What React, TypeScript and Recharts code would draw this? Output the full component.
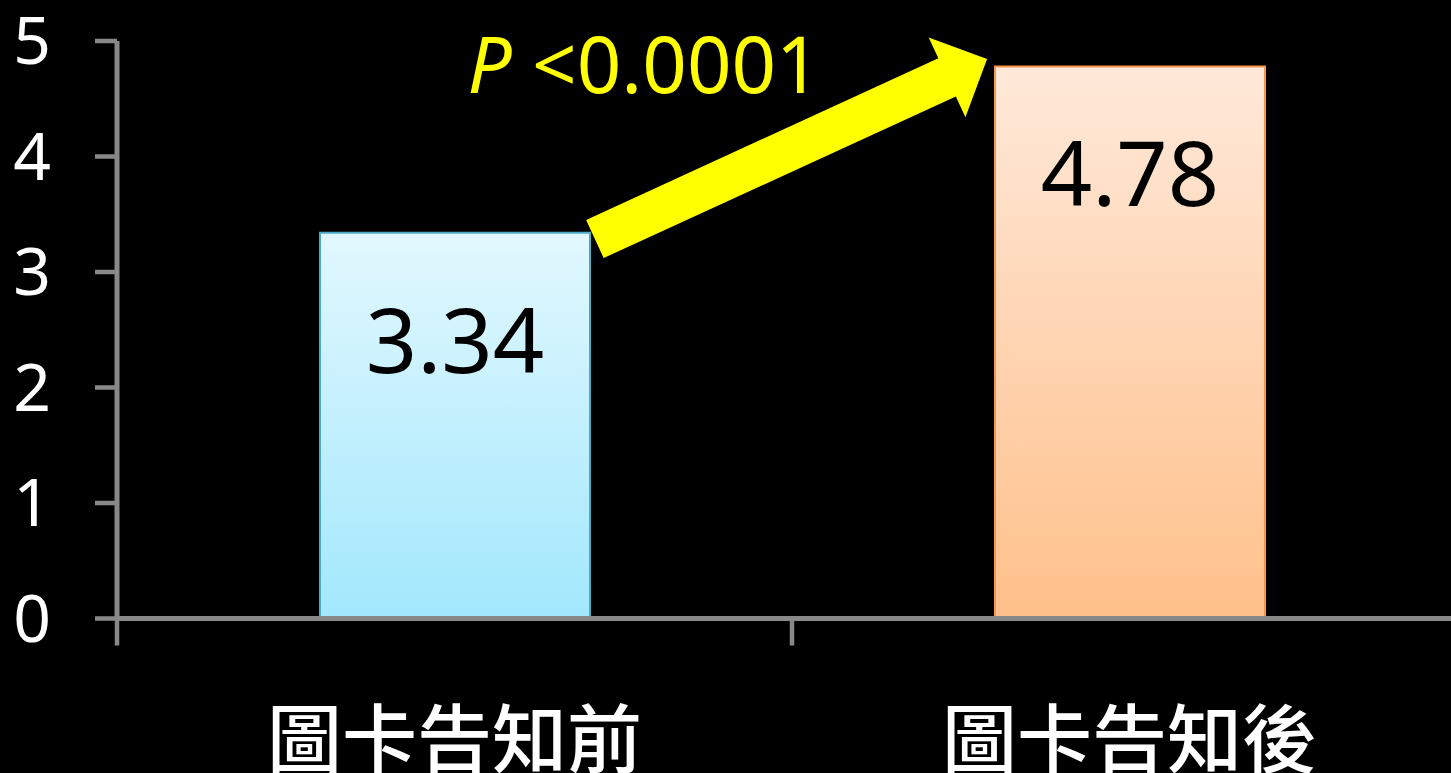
import { BarChart, Bar, XAxis, YAxis, Cell, LabelList, ReferenceLine, ReferenceDot } from "recharts";

// scores before / after the picture-card notice
const categories = ["圖卡告知前", "圖卡告知後"];
const slots = [0.5, 1.5];
const scores = [3.34, 4.78];
const yTicks = [0, 1, 2, 3, 4, 5];
const xTicks = [0, 0.5, 1, 1.5, 2];

const fills = ["url(#fillBefore)", "url(#fillAfter)"];
const strokes = ["#4bacc6", "#f79646"];

// arrow from the first bar up to the second, in data units
const arrowFrom = { x: 0.708, y: 3.286 };
const arrowTo = { x: 1.289, y: 4.844 };
const pLabelAt = { x: 0.781, y: 4.55 };

const data = categories.map((name, i) => ({ name, pos: slots[i], score: scores[i] }));

const AXIS = "#888888";
const FONT = "'Noto Sans', 'DejaVu Sans', sans-serif";
const CJK = "'Noto Sans CJK TC', 'Noto Sans CJK SC', sans-serif";

function XTick(props: any) {
  const { x, y, payload } = props;
  const v = payload.value as number;
  if (Number.isInteger(v)) {
    return <line x1={x} x2={x} y1={y} y2={y + 27} stroke={AXIS} strokeWidth={4.5} />;
  }
  const idx = slots.indexOf(v);
  return (
    <text x={x} y={y + 148} textAnchor="middle" fill="#ffffff" fontSize={75} fontWeight={500} fontFamily={CJK}>
      {categories[idx]}
    </text>
  );
}

function Arrow(props: any) {
  const { x1, y1, x2, y2 } = props;
  const dx = x2 - x1;
  const dy = y2 - y1;
  const len = Math.hypot(dx, dy);
  const ux = dx / len;
  const uy = dy / len;
  const nx = -uy;
  const ny = ux;
  const shaft = 21;
  const wing = 44;
  const head = 44;
  const bx = x2 - ux * head;
  const by = y2 - uy * head;
  const pts = [
    [x1 + nx * shaft, y1 + ny * shaft],
    [bx + nx * shaft, by + ny * shaft],
    [bx + nx * wing, by + ny * wing],
    [x2, y2],
    [bx - nx * wing, by - ny * wing],
    [bx - nx * shaft, by - ny * shaft],
    [x1 - nx * shaft, y1 - ny * shaft],
  ];
  return <polygon points={pts.map((p) => p.join(",")).join(" ")} fill="#ffff00" />;
}

function PLabel(props: any) {
  const { cx, cy } = props;
  return (
    <text x={cx} y={cy} textAnchor="middle" fill="#ffff00" fontSize={78} fontFamily={FONT}>
      <tspan fontStyle="italic">P</tspan> &lt;0.0001
    </text>
  );
}

function ValueLabel(props: any) {
  const { x, y, width, value } = props;
  return (
    <text x={x + width / 2} y={y + 140} textAnchor="middle" fill="#000000" fontSize={90} fontFamily={FONT}>
      {value}
    </text>
  );
}

export default function App() {
  return (
    <div
      style={{
        position: "absolute",
        top: 0,
        left: 0,
        width: 1451,
        height: 773,
        overflow: "hidden",
        background: "#000000",
      }}
    >
      <BarChart
        width={1480}
        height={773}
        data={data}
        margin={{ top: 41, right: 13, left: 0, bottom: 0 }}
      >
        <defs>
          <linearGradient id="fillBefore" x1="0" y1="0" x2="0" y2="1">
            <stop offset="0%" stopColor="#e2f8fe" />
            <stop offset="100%" stopColor="#a2e8fd" />
          </linearGradient>
          <linearGradient id="fillAfter" x1="0" y1="0" x2="0" y2="1">
            <stop offset="0%" stopColor="#ffe9da" />
            <stop offset="100%" stopColor="#ffc08a" />
          </linearGradient>
        </defs>
        <XAxis
          type="number"
          dataKey="pos"
          domain={[0, 2]}
          ticks={xTicks}
          interval={0}
          height={154.5}
          tickSize={0}
          tickMargin={0}
          tickLine={false}
          axisLine={{ stroke: AXIS, strokeWidth: 5 }}
          tick={<XTick />}
        />
        <YAxis
          domain={[0, 5]}
          ticks={yTicks}
          interval={0}
          width={117}
          tickSize={22}
          tickMargin={44}
          axisLine={{ stroke: AXIS, strokeWidth: 5 }}
          tickLine={{ stroke: AXIS, strokeWidth: 4.5 }}
          tick={{ fill: "#ffffff", fontSize: 66, fontFamily: FONT }}
        />
        <Bar dataKey="score" barSize={270} isAnimationActive={false}>
          {data.map((d, i) => (
            <Cell key={d.name} fill={fills[i]} stroke={strokes[i]} strokeWidth={2} />
          ))}
          <LabelList dataKey="score" content={<ValueLabel />} />
        </Bar>
        <ReferenceLine segment={[arrowFrom, arrowTo]} shape={<Arrow />} />
        <ReferenceDot x={pLabelAt.x} y={pLabelAt.y} r={0} shape={<PLabel />} />
      </BarChart>
    </div>
  );
}
